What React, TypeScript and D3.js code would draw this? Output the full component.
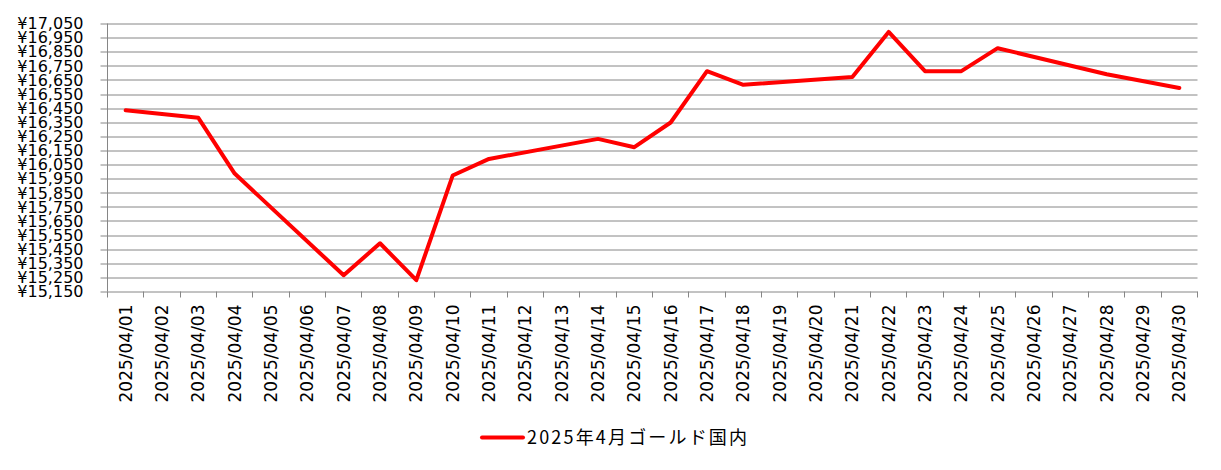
import * as d3 from 'd3';

// April 2025 domestic gold price (yen/gram); null = no quote that day
const DATES = [
  '2025/04/01', '2025/04/02', '2025/04/03', '2025/04/04', '2025/04/05',
  '2025/04/06', '2025/04/07', '2025/04/08', '2025/04/09', '2025/04/10',
  '2025/04/11', '2025/04/12', '2025/04/13', '2025/04/14', '2025/04/15',
  '2025/04/16', '2025/04/17', '2025/04/18', '2025/04/19', '2025/04/20',
  '2025/04/21', '2025/04/22', '2025/04/23', '2025/04/24', '2025/04/25',
  '2025/04/26', '2025/04/27', '2025/04/28', '2025/04/29', '2025/04/30',
];

const PRICES: (number | null)[] = [
  16435, null, 16381, 15986, null,
  null, 15265, 15492, 15230, 15972,
  16090, null, null, 16232, 16173,
  16348, 16712, 16615, null, null,
  16671, 16990, 16712, 16712, 16875,
  null, null, 16690, null, 16593,
];

const Y_TICKS = d3.range(15150, 17051, 100);
const SERIES_NAME = '2025年4月ゴールド国内';

const W = 1221;
const H = 470;
const margin = { top: 23.5, right: 23.5, bottom: 178.5, left: 107.5 };
const innerW = W - margin.left - margin.right;
const innerH = H - margin.top - margin.bottom;

const GRID = '#868686';
const LINE = '#ff0000';
const FONT = '"DejaVu Sans", sans-serif';

export default function App() {
  const x = d3.scaleBand<string>().domain(DATES).range([0, innerW]).padding(0);
  const y = d3.scaleLinear().domain([15150, 17050]).range([innerH, 0]);
  const cx = (d: string) => (x(d) ?? 0) + x.bandwidth() / 2;

  const pts = DATES.map((d, i) => ({ d, v: PRICES[i] })).filter((p) => p.v != null) as { d: string; v: number }[];
  const line = d3.line<{ d: string; v: number }>().x((p) => cx(p.d)).y((p) => y(p.v));

  const fmt = (v: number) => '¥' + d3.format(',')(v);

  return (
    <svg width={W} height={H} style={{ display: 'block', margin: '-8px', background: '#fff' }}>
      <g transform={`translate(${margin.left},${margin.top})`}>
        {/* horizontal grid + left ticks */}
        {Y_TICKS.map((t) => (
          <line key={t} x1={-7} x2={innerW} y1={Math.round(y(t)) + 0.5} y2={Math.round(y(t)) + 0.5} stroke={GRID} strokeWidth={1} />
        ))}
        {/* vertical axis */}
        <line x1={0} x2={0} y1={0} y2={innerH} stroke={GRID} strokeWidth={1} />
        {/* category ticks */}
        {DATES.map((d) => (
          <line key={d} x1={Math.round(x(d) ?? 0)} x2={Math.round(x(d) ?? 0)} y1={innerH} y2={innerH + 6} stroke={GRID} strokeWidth={1} />
        ))}
        <line x1={innerW} x2={innerW} y1={innerH} y2={innerH + 6} stroke={GRID} strokeWidth={1} />
        {/* y labels */}
        {Y_TICKS.map((t) => (
          <text key={t} x={-24} y={y(t)} dy="0.36em" textAnchor="end" fontFamily={FONT} fontSize={16} fill="#000">
            {fmt(t)}
          </text>
        ))}
        {/* x labels */}
        {DATES.map((d) => (
          <text
            key={d}
            transform={`translate(${cx(d)},${innerH + 13}) rotate(-90)`}
            textAnchor="end"
            dy="0.36em"
            fontFamily={FONT}
            fontSize={17}
            fill="#000"
          >
            {d}
          </text>
        ))}
        {/* series */}
        <path d={line(pts) ?? ''} fill="none" stroke={LINE} strokeWidth={4} strokeLinejoin="round" strokeLinecap="round" />
      </g>
      {/* legend */}
      <g transform="translate(482,437.5)">
        <line x1={0} x2={41} y1={0} y2={0} stroke={LINE} strokeWidth={4} strokeLinecap="round" />
        <text x={45} y={0} dy="0.36em" fontFamily='"Noto Sans CJK JP", sans-serif' fontSize={18} fill="#000" textLength={220} lengthAdjust="spacing">
          {SERIES_NAME}
        </text>
      </g>
    </svg>
  );
}
